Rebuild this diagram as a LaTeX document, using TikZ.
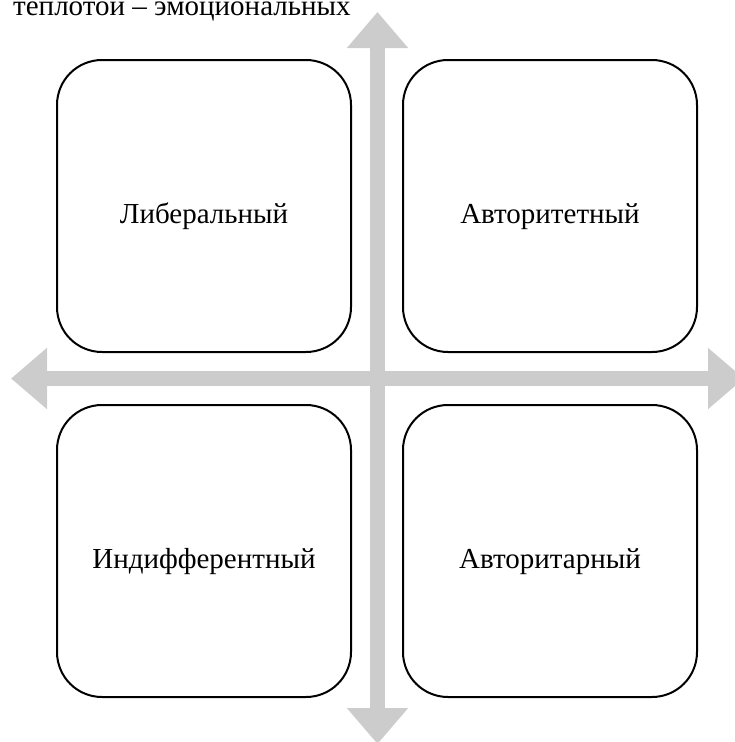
\documentclass[tikz,border=0pt]{standalone}
\usepackage{fontspec}
\setmainfont{Liberation Serif}
\usepackage{tikz}
\usetikzlibrary{arrows.meta,positioning}
\definecolor{axisgray}{RGB}{204,204,204}
\tikzset{%
	quadrant/.style = {draw, rectangle, rounded corners=45pt, line width=2pt, minimum width=294pt, minimum height=292pt, text centered, text height=34pt, text depth=0pt, font=\fontsize{29}{34}\selectfont},
	axisarrow/.style = {axisgray, line width=15pt, {Triangle[length=36pt,width=59pt]}-{Triangle[length=36pt,width=59pt]}},
}

\begin{document}
\begin{tikzpicture}[x=1pt,y=-1pt]
	\useasboundingbox (0,0) rectangle (735,742);
	\node[anchor=base west, inner sep=0pt, font=\fontsize{29}{34}\selectfont] (caption) at (13,15) {теплотой -- эмоциональных};
	
	\coordinate (top) at (377.5,12);
	\coordinate (bottom) at (377.5,744);
	\coordinate (left) at (11,378.5);
	\coordinate (right) at (744,378.5);
	\draw[axisarrow] (bottom) -- (top);
	\draw[axisarrow] (left) -- (right);
	
	\node[quadrant] (liberal) at (204,206) {Либеральный};
	\node[quadrant] (authoritative) at (550,206) {Авторитетный};
	\node[quadrant] (indifferent) at (204,551) {Индифферентный};
	\node[quadrant] (authoritarian) at (550,551) {Авторитарный};
\end{tikzpicture}
\end{document}
